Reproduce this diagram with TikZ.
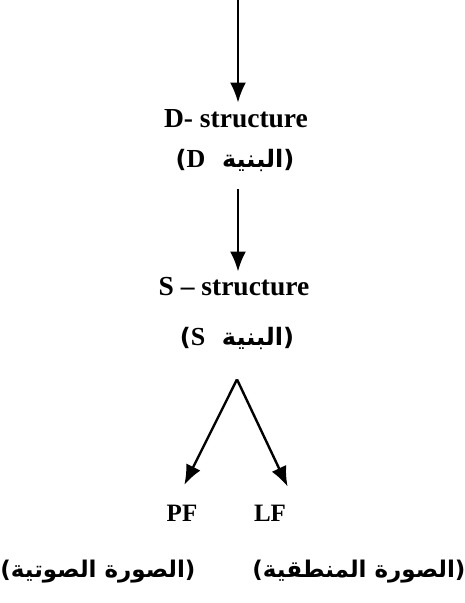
\documentclass[tikz,border=0pt]{standalone}
\usepackage{fontspec}
\setmainfont{Liberation Serif}
\newfontfamily\arabicfont[Script=Arabic]{DejaVu Sans}
\TeXXeTstate=1
\usetikzlibrary{arrows.meta}
\begin{document}
\begin{tikzpicture}[x=1pt,y=-1pt,
  lat/.style={font=\fontsize{25}{30}\selectfont\bfseries, inner sep=0pt},
  latb/.style={font=\fontsize{27.5}{30}\selectfont\bfseries, inner sep=0pt},
  ar/.style={font=\arabicfont\fontsize{24}{28}\selectfont\bfseries, inner sep=0pt},
  arb/.style={font=\arabicfont\fontsize{23}{28}\selectfont\bfseries, inner sep=0pt},
  arr/.style={line width=2.4pt, -{Latex[length=20pt,width=16pt]}}]
\useasboundingbox (0,0) rectangle (465,603);
\coordinate (top) at (238,0);
\node[latb] (ds) at (236,119) {D- structure};
\node[ar] (dar) at (235,160) {\beginR(البنية\ \ {\rmfamily\fontsize{26}{28}\selectfont D})\endR};
\node[latb] (ss) at (234,287) {S – structure};
\node[ar] (sar) at (237,338) {\beginR(البنية\ \ {\rmfamily\fontsize{26}{28}\selectfont S})\endR};
\node[lat] (pf) at (182,513) {PF};
\node[lat] (lf) at (270,513) {LF};
\node[arb] (pfar) at (98,572) {\beginR(الصورة الصوتية)\endR};
\node[arb] (lfar) at (359,572) {\beginR(الصورة المنطقية)\endR};
\coordinate (apex) at ([yshift=-30pt]sar.south);
\draw[arr, shorten >=7pt] (top) -- (top |- ds.north);
\draw[arr, shorten <=18pt, shorten >=6pt] (dar.south -| top) -- (top |- ss.north);
\draw[arr, shorten >=22pt] (apex) -- ([xshift=-7.5pt]pf.north);
\draw[arr, shorten >=20pt] (apex) -- ([xshift=10pt]lf.north east);
\end{tikzpicture}
\end{document}
